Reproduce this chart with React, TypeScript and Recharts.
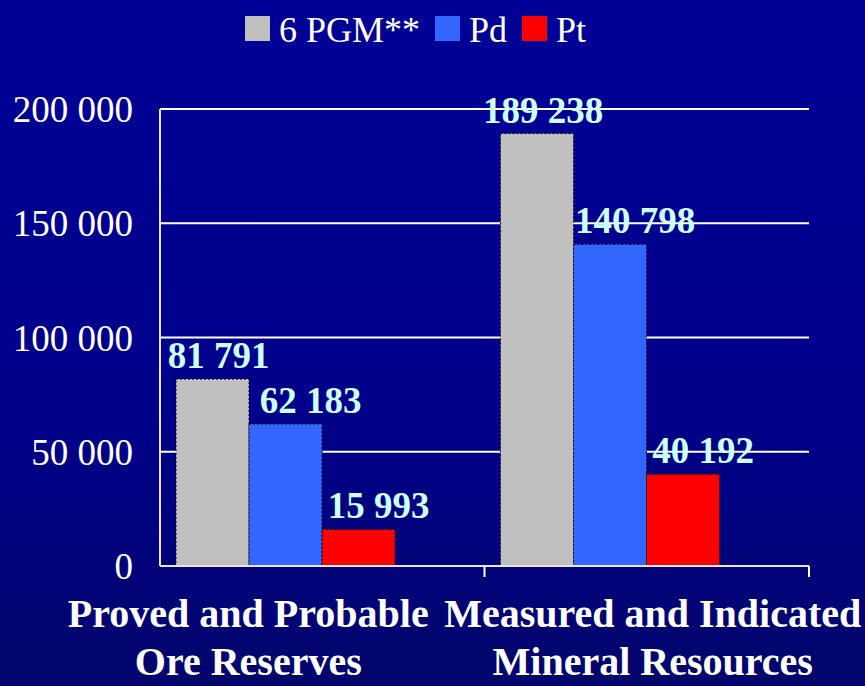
import React from "react";
import {
  BarChart,
  Bar,
  XAxis,
  YAxis,
  CartesianGrid,
  Legend,
  LabelList,
} from "recharts";

const categories = [
  "Proved and Probable\nOre Reserves",
  "Measured and Indicated\nMineral Resources",
];
const pgm6 = [81791, 189238];
const pd = [62183, 140798];
const pt = [15993, 40192];
const yTicks = [0, 50000, 100000, 150000, 200000];

const data = categories.map((name, i) => ({
  name,
  pgm: pgm6[i],
  pd: pd[i],
  pt: pt[i],
  spare: null,
}));

const SERIF = '"Liberation Serif", "Times New Roman", serif';

const fmt = (v: number) => String(v).replace(/\B(?=(\d{3})+(?!\d))/g, " ");

const makeLabel = (dx: number) => (props: any) => {
  const { x, y, width, value } = props;
  if (value == null) return null;
  return (
    <text
      x={x + width / 2 + dx}
      y={y - 11}
      textAnchor="middle"
      fill="#ccffff"
      fontFamily={SERIF}
      fontWeight="bold"
      fontSize={37}
    >
      {fmt(value)}
    </text>
  );
};

const tickShift = [-74, 6];

const CategoryTick = (props: any) => {
  const { x, y, payload, index } = props;
  const lines = String(payload.value).split("\n");
  const half = payload.offset || 0;
  return (
    <g>
      <line x1={x + half} x2={x + half} y1={y} y2={y + 11} stroke="#ffffff" strokeWidth={2} />
      {lines.map((line, i) => (
        <text
          key={i}
          x={x + tickShift[index]}
          y={y + 61 + i * 48}
          textAnchor="middle"
          fill="#ffffff"
          fontFamily={SERIF}
          fontWeight="bold"
          fontSize={40}
        >
          {line}
        </text>
      ))}
    </g>
  );
};

const renderLegend = (props: any) => {
  const items = (props.payload || []).filter((e: any) => e.type !== "none" && e.dataKey !== "spare");
  return (
    <div style={{ display: "flex", alignItems: "center" }}>
      {items.map((entry: any, i: number) => (
        <div key={i} style={{ display: "flex", alignItems: "center", marginRight: 15 }}>
          <div style={{ width: 25, height: 25, background: entry.color }} />
          <span
            style={{
              marginLeft: 9,
              color: "#ffffff",
              fontFamily: SERIF,
              fontSize: 36,
              lineHeight: "25px",
              position: "relative",
              top: 2,
            }}
          >
            {entry.value}
          </span>
        </div>
      ))}
    </div>
  );
};

export default function App() {
  return (
    <div
      style={{
        position: "absolute",
        left: 0,
        top: 0,
        width: 865,
        height: 686,
        background: "linear-gradient(180deg, #000096 0%, #00008a 60%, #03056c 100%)",
      }}
    >
      <BarChart
        width={865}
        height={686}
        data={data}
        margin={{ top: 109, right: 56, bottom: 90, left: 10 }}
        barCategoryGap={16}
        barGap={0}
      >
        <CartesianGrid vertical={false} stroke="#ffffff" strokeWidth={2} />
        <XAxis
          dataKey="name"
          axisLine={{ stroke: "#e8e8e8", strokeWidth: 2 }}
          tickLine={false}
          tickSize={0}
          tickMargin={0}
          tick={<CategoryTick />}
          interval={0}
        />
        <YAxis
          width={150}
          domain={[0, 200000]}
          ticks={yTicks}
          tickFormatter={fmt}
          axisLine={{ stroke: "#e8e8e8", strokeWidth: 2 }}
          tickLine={false}
          tickSize={0}
          tickMargin={27}
          tick={{ fill: "#ffffff", fontFamily: SERIF, fontSize: 37 }}
        />
        <Legend
          verticalAlign="middle"
          align="center"
          layout="horizontal"
          content={renderLegend}
          wrapperStyle={{ top: 16, left: 245, width: 500 }}
        />
        <Bar dataKey="pgm" name="6 PGM**" fill="#c0c0c0" stroke="#000000" strokeDasharray="2 2" isAnimationActive={false}>
          <LabelList dataKey="pgm" content={makeLabel(6)} />
        </Bar>
        <Bar dataKey="pd" name="Pd" fill="#3366ff" stroke="#000000" strokeDasharray="2 2" isAnimationActive={false}>
          <LabelList dataKey="pd" content={makeLabel(25)} />
        </Bar>
        <Bar dataKey="pt" name="Pt" fill="#ff0000" stroke="#000000" strokeDasharray="2 2" isAnimationActive={false}>
          <LabelList dataKey="pt" content={makeLabel(20)} />
        </Bar>
        <Bar dataKey="spare" legendType="none" fill="none" isAnimationActive={false} />
      </BarChart>
    </div>
  );
}
